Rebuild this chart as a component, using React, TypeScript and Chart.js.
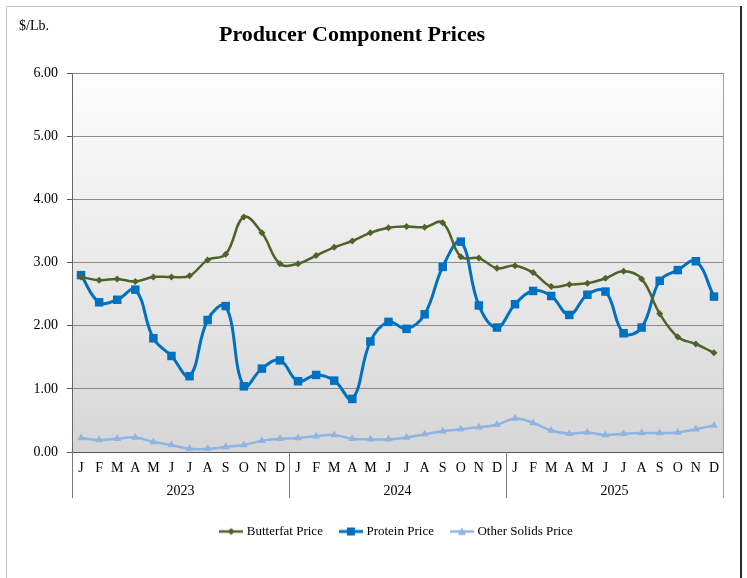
import React, { useEffect, useRef } from 'react';
import { Chart, registerables } from 'chart.js';

Chart.register(...registerables);

const MONTHS = ['J', 'F', 'M', 'A', 'M', 'J', 'J', 'A', 'S', 'O', 'N', 'D'];
const YEARS = ['2023', '2024', '2025'];
const CATEGORIES = [...MONTHS, ...MONTHS, ...MONTHS];
const Y_TICKS = [0, 1, 2, 3, 4, 5, 6];

const BUTTERFAT = [
  2.77, 2.72, 2.74, 2.70, 2.77, 2.77, 2.79, 3.04, 3.13, 3.72, 3.47, 2.98,
  2.98, 3.11, 3.24, 3.34, 3.47, 3.55, 3.57, 3.56, 3.63, 3.09, 3.07, 2.91,
  2.95, 2.84, 2.62, 2.65, 2.67, 2.75, 2.86, 2.74, 2.19, 1.82, 1.71, 1.57,
];
const PROTEIN = [
  2.80, 2.37, 2.41, 2.57, 1.80, 1.52, 1.20, 2.09, 2.31, 1.04, 1.32, 1.45,
  1.12, 1.22, 1.13, 0.84, 1.75, 2.06, 1.95, 2.18, 2.93, 3.33, 2.32, 1.97,
  2.34, 2.55, 2.47, 2.17, 2.49, 2.54, 1.88, 1.97, 2.71, 2.88, 3.02, 2.46,
];
const OTHER_SOLIDS = [
  0.22, 0.19, 0.21, 0.23, 0.16, 0.11, 0.05, 0.05, 0.08, 0.11, 0.18, 0.21,
  0.22, 0.25, 0.27, 0.21, 0.20, 0.20, 0.23, 0.28, 0.33, 0.36, 0.39, 0.43,
  0.53, 0.46, 0.34, 0.29, 0.31, 0.27, 0.29, 0.30, 0.30, 0.31, 0.36, 0.42,
];

const SERIES_NAMES = ['Butterfat Price', 'Protein Price', 'Other Solids Price'];
const TITLE = 'Producer Component Prices';
const UNIT = '$/Lb.';

const FONT = "'Liberation Serif', 'Times New Roman', serif";
const COLORS = ['#4F6228', '#0070C0', '#8EB4E3'];
const STYLES: any[] = ['rectRot', 'rect', 'triangle'];
const RADII = [3.5, 6, 4.5];
const WIDTHS = [2.5, 3, 2.5];

function makeIcon(i: number) {
  const c = document.createElement('canvas');
  c.width = 24;
  c.height = 12;
  const ctx = c.getContext('2d')!;
  ctx.strokeStyle = COLORS[i];
  ctx.fillStyle = COLORS[i];
  ctx.lineWidth = WIDTHS[i];
  ctx.beginPath();
  ctx.moveTo(0, 6);
  ctx.lineTo(24, 6);
  ctx.stroke();
  ctx.beginPath();
  if (i === 0) {
    ctx.moveTo(12, 2.5); ctx.lineTo(15.5, 6); ctx.lineTo(12, 9.5); ctx.lineTo(8.5, 6);
  } else if (i === 1) {
    ctx.rect(8, 2, 8, 8);
  } else {
    ctx.moveTo(12, 2); ctx.lineTo(16, 9.5); ctx.lineTo(8, 9.5);
  }
  ctx.closePath();
  ctx.fill();
  return c;
}

const decor = {
  id: 'decor',
  afterLayout(chart: any) {
    if (chart.legend) {
      chart.legend.left = chart.chartArea.left;
    }
  },
  beforeDraw(chart: any) {
    const { ctx, chartArea: a, width, height } = chart;
    ctx.save();
    ctx.fillStyle = '#ffffff';
    ctx.fillRect(0, 0, width, height);
    ctx.strokeStyle = '#c4c4c4';
    ctx.lineWidth = 1;
    ctx.beginPath();
    ctx.moveTo(6.5, height);
    ctx.lineTo(6.5, 6.5);
    ctx.lineTo(739.5, 6.5);
    ctx.stroke();
    ctx.strokeStyle = '#2a2a2a';
    ctx.lineWidth = 2;
    ctx.beginPath();
    ctx.moveTo(741, 6);
    ctx.lineTo(741, height);
    ctx.stroke();
    const g = ctx.createLinearGradient(0, a.top, 0, a.bottom);
    g.addColorStop(0, '#fdfdfd');
    g.addColorStop(1, '#d6d6d6');
    ctx.fillStyle = g;
    ctx.fillRect(a.left, a.top, a.right - a.left, a.bottom - a.top);
    ctx.restore();
  },
  afterDraw(chart: any) {
    const { ctx, chartArea: a } = chart;
    const xs = chart.scales.x;
    ctx.save();
    // right border of plot
    ctx.strokeStyle = '#a0a0a0';
    ctx.lineWidth = 1;
    ctx.beginPath();
    ctx.moveTo(Math.round(a.right) + 0.5, a.top);
    ctx.lineTo(Math.round(a.right) + 0.5, a.bottom + 46);
    ctx.stroke();
    // year separators
    ctx.strokeStyle = '#7a7a7a';
    const seps = [a.left];
    for (let k = 1; k < YEARS.length; k++) {
      seps.push((xs.getPixelForValue(k * 12 - 1) + xs.getPixelForValue(k * 12)) / 2);
    }
    seps.forEach((x) => {
      ctx.beginPath();
      ctx.moveTo(Math.round(x) + 0.5, a.bottom);
      ctx.lineTo(Math.round(x) + 0.5, a.bottom + 46);
      ctx.stroke();
    });
    // year labels
    ctx.fillStyle = '#000';
    ctx.font = `14px ${FONT}`;
    ctx.textAlign = 'center';
    ctx.textBaseline = 'middle';
    YEARS.forEach((y, k) => {
      const x = (xs.getPixelForValue(k * 12) + xs.getPixelForValue(k * 12 + 11)) / 2;
      ctx.fillText(y, x, a.bottom + 39);
    });
    // title and unit
    ctx.font = `bold 22px ${FONT}`;
    ctx.fillText(TITLE, 352, 35);
    ctx.font = `14px ${FONT}`;
    ctx.textAlign = 'left';
    ctx.fillText(UNIT, 19, 26);
    ctx.restore();
  },
};

export default function App() {
  const ref = useRef<HTMLCanvasElement>(null);
  useEffect(() => {
    if (!ref.current) return;
    const icons = [0, 1, 2].map(makeIcon);
    const data = [BUTTERFAT, PROTEIN, OTHER_SOLIDS];
    const chart = new Chart(ref.current, {
      type: 'line',
      data: {
        labels: CATEGORIES,
        datasets: data.map((d, i) => ({
          label: SERIES_NAMES[i],
          data: d,
          borderColor: COLORS[i],
          backgroundColor: COLORS[i],
          borderWidth: WIDTHS[i],
          pointStyle: STYLES[i],
          pointRadius: RADII[i],
          pointBorderWidth: 0,
          pointBackgroundColor: COLORS[i],
          tension: 0.4,
          fill: false,
        })),
      },
      options: {
        animation: false,
        responsive: false,
        devicePixelRatio: 1,
        layout: { padding: { left: 0, right: 24, top: 73, bottom: 30 } },
        plugins: {
          title: { display: false },
          tooltip: { enabled: false },
          legend: {
            position: 'bottom',
            labels: {
              usePointStyle: true,
              pointStyleWidth: 18,
              boxHeight: 12,
              padding: 19,
              color: '#000',
              font: { family: FONT, size: 13 },
              generateLabels: () =>
                SERIES_NAMES.map((t, i) => ({
                  text: t,
                  pointStyle: icons[i] as any,
                  fillStyle: COLORS[i],
                  strokeStyle: COLORS[i],
                  lineWidth: 0,
                  hidden: false,
                  datasetIndex: i,
                })),
            },
          },
        },
        scales: {
          x: {
            type: 'category',
            offset: true,
            afterFit: (s: any) => { s.height = 54; },
            grid: { display: false },
            border: { display: true, color: '#555555', width: 1 },
            ticks: {
              autoSkip: false,
              maxRotation: 0,
              minRotation: 0,
              padding: 0,
              color: '#000',
              font: { family: FONT, size: 14 },
            },
          },
          y: {
            min: 0,
            max: 6,
            afterFit: (s: any) => { s.width = 72; },
            afterBuildTicks: (s: any) => { s.ticks = Y_TICKS.map((v) => ({ value: v })); },
            grid: {
              color: '#8a8a8a',
              lineWidth: 1,
              drawTicks: true,
              tickLength: 5,
              tickColor: '#555555',
            },
            border: { display: true, color: '#666666', width: 1 },
            ticks: {
              padding: 9,
              color: '#000',
              font: { family: FONT, size: 14 },
              callback: (v: any) => Number(v).toFixed(2),
            },
          },
        },
      },
      plugins: [decor],
    });
    return () => chart.destroy();
  }, []);
  return (
    <div style={{ position: 'fixed', left: 0, top: 0, width: 747, height: 578, background: '#fff' }}>
      <canvas ref={ref} width={747} height={578} style={{ display: 'block' }} />
    </div>
  );
}
